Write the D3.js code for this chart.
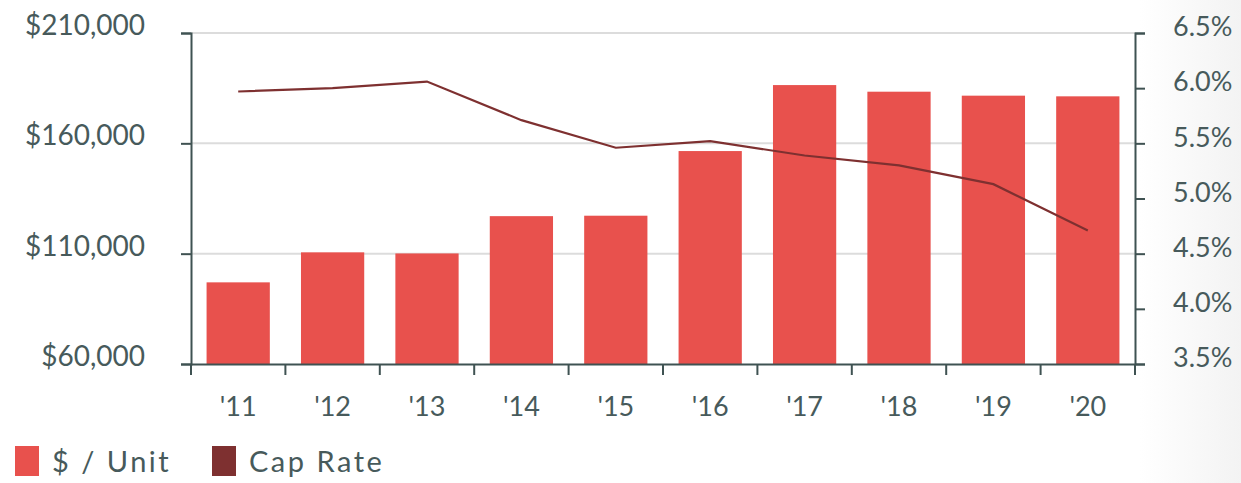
<!DOCTYPE html>
<html>
<head>
<meta charset="utf-8">
<script src="https://cdnjs.cloudflare.com/ajax/libs/d3/7.8.5/d3.min.js"></script>
<style>
  body { margin: 0; background: #fff; }
  text { font-family: Lato, "Open Sans", sans-serif; fill: #475a5b; }
</style>
</head>
<body>
<div id="main"></div>
<script>
var years = ["'11", "'12", "'13", "'14", "'15", "'16", "'17", "'18", "'19", "'20"];
var perUnit = [97000, 110600, 110100, 127000, 127200, 156500, 186400, 183400, 181600, 181300];
var capRate = [5.97, 6.00, 6.06, 5.71, 5.46, 5.52, 5.39, 5.30, 5.13, 4.71];
var leftTicks = [60000, 110000, 160000, 210000];
var rightTicks = [3.5, 4.0, 4.5, 5.0, 5.5, 6.0, 6.5];
var legendItems = [{name: "$ / Unit", color: "#e8514d"}, {name: "Cap Rate", color: "#7e3030"}];

(function() {
var width = 1241, height = 483;
var plotLeft = 191, plotRight = 1135, plotTop = 33, plotBottom = 364;

var svg = d3.select("#main").append("svg")
  .attr("width", width)
  .attr("height", height);

// faint grey fade at the right edge
var grad = svg.append("defs").append("linearGradient")
  .attr("id", "fade").attr("x1", "0").attr("x2", "1");
grad.append("stop").attr("offset", "0").attr("stop-color", "#fff");
grad.append("stop").attr("offset", "1").attr("stop-color", "#f3f3f3");
svg.append("rect").attr("x", 1140).attr("y", 0).attr("width", 101).attr("height", height)
  .attr("fill", "url(#fade)");

var x = d3.scaleBand().domain(years).range([plotLeft, plotRight]).paddingInner(0.33).paddingOuter(0.165);
var xAxisScale = d3.scaleBand().domain(years).range([plotLeft, plotRight]);
var y = d3.scaleLinear().domain([60000, 210000]).range([plotBottom, plotTop]);
var y2 = d3.scaleLinear().domain([3.5, 6.5]).range([plotBottom, plotTop]);

// gridlines
svg.append("g").selectAll("line")
  .data(leftTicks.slice(1))
  .enter().append("line")
  .attr("x1", plotLeft).attr("x2", plotRight)
  .attr("y1", function(d){ return y(d); })
  .attr("y2", function(d){ return y(d); })
  .attr("stroke", "#dcdcdc")
  .attr("stroke-width", 2);

// bars
svg.append("g").selectAll("rect")
  .data(perUnit)
  .enter().append("rect")
  .attr("x", function(d, i){ return x(years[i]); })
  .attr("width", x.bandwidth())
  .attr("y", function(d){ return y(d); })
  .attr("height", function(d){ return plotBottom - y(d); })
  .attr("fill", "#e8514d");

// cap rate line
var line = d3.line()
  .x(function(d, i){ return x(years[i]) + x.bandwidth() / 2; })
  .y(function(d){ return y2(d); });
svg.append("path")
  .datum(capRate)
  .attr("d", line)
  .attr("fill", "none")
  .attr("stroke", "#7e3030")
  .attr("stroke-width", 2.2);

// axes
var axisColor = "#3f5252";
var yAxis = svg.append("g")
  .attr("transform", "translate(" + plotLeft + ",0)")
  .call(d3.axisLeft(y).tickValues(leftTicks).tickSize(10).tickPadding(36)
    .tickFormat(function(d){ return "$" + d3.format(",")(d); }));

var y2Axis = svg.append("g")
  .attr("transform", "translate(" + plotRight + ",0)")
  .call(d3.axisRight(y2).tickValues(rightTicks).tickSize(10).tickPadding(28)
    .tickFormat(function(d){ return d.toFixed(1) + "%"; }));

var xAxis = svg.append("g")
  .attr("transform", "translate(0," + plotBottom + ")")
  .call(d3.axisBottom(xAxisScale).tickSize(0).tickPadding(33));

// tick marks on the band edges
svg.append("g").selectAll("line")
  .data(years.concat(["end"]))
  .enter().append("line")
  .attr("x1", function(d, i){ return i < years.length ? xAxisScale(d) : plotRight; })
  .attr("x2", function(d, i){ return i < years.length ? xAxisScale(d) : plotRight; })
  .attr("y1", plotBottom).attr("y2", plotBottom + 11)
  .attr("stroke", axisColor).attr("stroke-width", 2);

[yAxis, y2Axis, xAxis].forEach(function(a){
  a.selectAll("path").attr("stroke", axisColor).attr("stroke-width", 2);
  a.selectAll("line").attr("stroke", axisColor).attr("stroke-width", 2);
  a.selectAll("text").style("font-family", "Lato, sans-serif").attr("fill", "#475a5b");
});
yAxis.selectAll("text").attr("font-size", 28).attr("dy", "0.05em");
y2Axis.selectAll("text").attr("font-size", 27).attr("dy", "0.1em");
xAxis.selectAll("text").attr("font-size", 27);

// legend
var legend = svg.append("g").selectAll("g")
  .data(legendItems)
  .enter().append("g")
  .attr("transform", function(d, i){ return "translate(" + (15 + i * 197) + ",446)"; });
legend.append("rect")
  .attr("width", 24).attr("height", 30)
  .attr("fill", function(d){ return d.color; });
legend.append("text")
  .attr("x", 37).attr("y", 26)
  .attr("font-size", 29)
  .style("letter-spacing", "2.5px")
  .text(function(d){ return d.name; });
})();
</script>
</body>
</html>
